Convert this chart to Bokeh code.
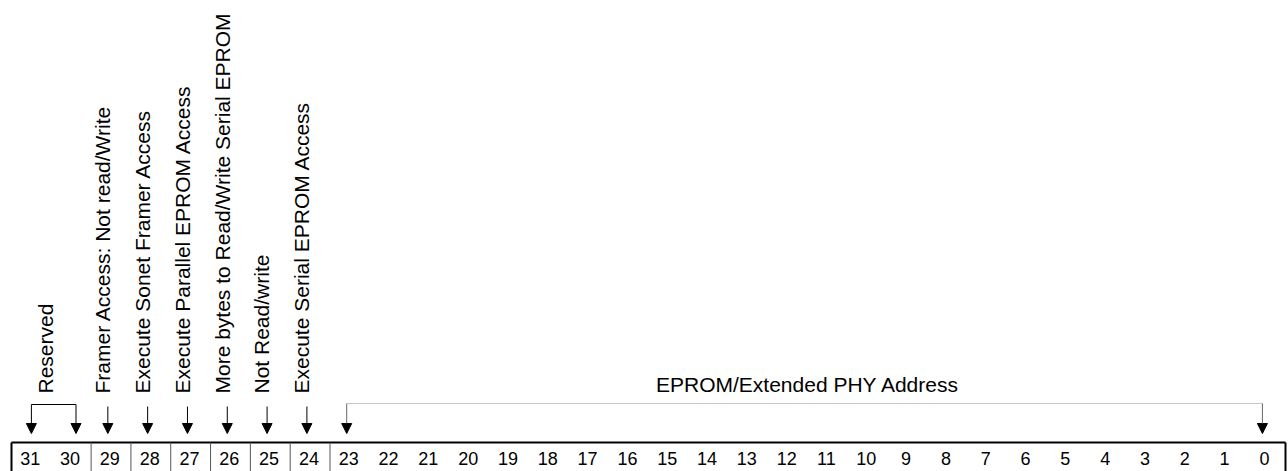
from bokeh.plotting import figure
from bokeh.models import Range1d, Arrow, NormalHead, ColumnDataSource
from bokeh.embed import file_html
from bokeh.resources import INLINE
from bokeh.core.properties import value

# ---- data ----
bits = list(range(31, -1, -1))
bit_labels = [str(b) for b in bits]

field_labels = ["Reserved",
                "Framer Access: Not read/Write",
                "Execute Sonet Framer Access",
                "Execute Parallel EPROM Access",
                "More bytes to Read/Write Serial EPROM",
                "Not Read/write",
                "Execute Serial EPROM Access"]
field_hi = [31, 29, 28, 27, 26, 25, 24]
field_lo = [30, 29, 28, 27, 26, 25, 24]

addr_label = "EPROM/Extended PHY Address"
addr_hi = 23
addr_lo = 0

FONT = "Liberation Sans"
W, H = 1288, 471

p = figure(width=W, height=H, output_backend="svg", toolbar_location=None,
           x_range=Range1d(31.776, -0.5754), y_range=Range1d(H, 0),
           min_border=0, min_border_left=0, min_border_right=0,
           min_border_top=0, min_border_bottom=0)
p.axis.visible = False
p.grid.visible = False
p.outline_line_color = None
p.background_fill_color = "white"
p.border_fill_color = "white"

# y positions (pixels from top)
Y_BOX_TOP = 442
Y_BOX_BOT = 480
Y_DIGIT = 458
Y_LABEL = 393
Y_SHAFT = 406
Y_BRACKET = 404
Y_TIP = 433

# ---- register box ----
p.segment(x0=[31.5], y0=[Y_BOX_TOP], x1=[-0.5], y1=[Y_BOX_TOP], line_color="black", line_width=2)
p.segment(x0=[31.5, -0.5], y0=[Y_BOX_TOP, Y_BOX_TOP], x1=[31.5, -0.5], y1=[Y_BOX_BOT, Y_BOX_BOT],
          line_color="black", line_width=2)
seps = [lo - 0.5 for lo in field_lo]
p.segment(x0=seps, y0=[Y_BOX_TOP] * len(seps), x1=seps, y1=[Y_BOX_BOT] * len(seps),
          line_color="#555555", line_width=1)

# ---- bit numbers ----
p.text(x=[b + 0.03 for b in bits], y=[Y_DIGIT] * len(bits), text=bit_labels,
       text_font=value(FONT), text_font_size="18px", text_align="center",
       text_baseline="alphabetic", text_color="black")

# ---- field labels (rotated) ----
lab_x = []
for hi, lo in zip(field_hi, field_lo):
    c = (hi + lo) / 2.0
    lab_x.append(c + (0.14 if hi != lo else 0.21))
p.text(x=lab_x, y=[Y_LABEL] * len(lab_x), text=field_labels, angle=1.5708,
       text_font=value(FONT), text_font_size="21px", text_align="left",
       text_baseline="middle", text_color="black")

# ---- arrows for single-bit fields ----
single = [hi for hi, lo in zip(field_hi, field_lo) if hi == lo]
ax = [b + 0.08 for b in single]
src = ColumnDataSource(dict(xs=ax, ys=[Y_SHAFT] * len(ax), xe=ax, ye=[Y_TIP] * len(ax)))
p.add_layout(Arrow(source=src, x_start="xs", y_start="ys", x_end="xe", y_end="ye",
                   line_color="black", line_width=1,
                   end=NormalHead(size=10, fill_color="black", line_color="black")))

# ---- reserved bracket ----
rx0 = field_hi[0] + 0.0
rx1 = field_lo[0] - 0.12
p.segment(x0=[rx0], y0=[Y_BRACKET], x1=[rx1], y1=[Y_BRACKET], line_color="black", line_width=1)
src_r = ColumnDataSource(dict(xs=[rx0, rx1], ys=[Y_BRACKET] * 2, xe=[rx0, rx1], ye=[Y_TIP] * 2))
p.add_layout(Arrow(source=src_r, x_start="xs", y_start="ys", x_end="xe", y_end="ye",
                   line_color="black", line_width=1,
                   end=NormalHead(size=10, fill_color="black", line_color="black")))

# ---- address bracket ----
ex0 = addr_hi + 0.08
ex1 = addr_lo + 0.08
p.segment(x0=[ex0], y0=[Y_BRACKET - 1], x1=[ex1], y1=[Y_BRACKET - 1], line_color="#c8c8c8", line_width=1)
src_e = ColumnDataSource(dict(xs=[ex0, ex1], ys=[Y_BRACKET - 1] * 2, xe=[ex0, ex1], ye=[Y_TIP] * 2))
p.add_layout(Arrow(source=src_e, x_start="xs", y_start="ys", x_end="xe", y_end="ye",
                   line_color="#666666", line_width=1,
                   end=NormalHead(size=10, fill_color="black", line_color="black")))
p.text(x=[(addr_hi + addr_lo) / 2.0], y=[384], text=[addr_label],
       text_font=value(FONT), text_font_size="21px", text_align="center",
       text_baseline="alphabetic", text_color="black")

open("out.html", "w").write(file_html(p, INLINE))
